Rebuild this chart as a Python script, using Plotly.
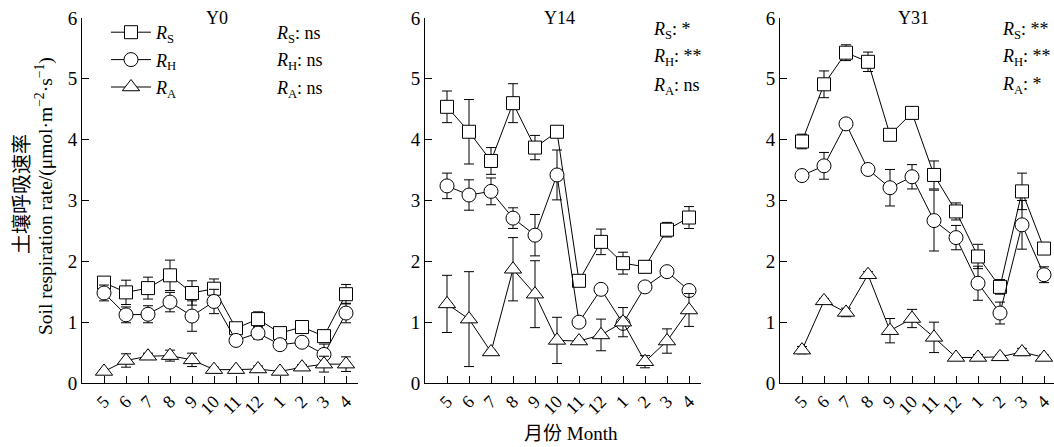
import plotly.graph_objects as go

months = ["5", "6", "7", "8", "9", "10", "11", "12", "1", "2", "3", "4"]
panels = ["Y0", "Y14", "Y31"]

# Y0
y0_rs = [1.65, 1.49, 1.56, 1.77, 1.48, 1.55, 0.90, 1.05, 0.82, 0.92, 0.77, 1.46]
y0_rs_err = [0.08, 0.20, 0.18, 0.25, 0.20, 0.16, 0.05, 0.12, 0.05, 0.03, 0.10, 0.16]
y0_rh = [1.48, 1.12, 1.13, 1.33, 1.10, 1.34, 0.70, 0.82, 0.63, 0.67, 0.47, 1.15]
y0_rh_err = [0.13, 0.13, 0.14, 0.16, 0.25, 0.20, 0.03, 0.10, 0.05, 0.02, 0.17, 0.16]
y0_ra = [0.19, 0.37, 0.44, 0.45, 0.38, 0.22, 0.22, 0.23, 0.19, 0.26, 0.31, 0.31]
y0_ra_err = [0.03, 0.11, 0.05, 0.09, 0.11, 0.04, 0.03, 0.05, 0.02, 0.04, 0.13, 0.12]

# Y14
y14_rs = [4.54, 4.13, 3.65, 4.60, 3.87, 4.13, 1.68, 2.32, 1.97, 1.91, 2.52, 2.72]
y14_rs_err = [0.26, 0.53, 0.22, 0.32, 0.20, 0.03, 0.03, 0.21, 0.18, 0.10, 0.12, 0.18]
y14_rh = [3.24, 3.09, 3.15, 2.71, 2.43, 3.42, 1.00, 1.54, 0.98, 1.58, 1.83, 1.52]
y14_rh_err = [0.21, 0.25, 0.22, 0.17, 0.34, 0.41, 0.03, 0.02, 0.03, 0.02, 0.03, 0.03]
y14_ra = [1.30, 1.05, 0.51, 1.87, 1.46, 0.70, 0.69, 0.79, 1.00, 0.35, 0.69, 1.20]
y14_ra_err = [0.47, 0.78, 0.03, 0.52, 0.55, 0.38, 0.03, 0.26, 0.24, 0.10, 0.20, 0.27]

# Y31
y31_rs = [3.97, 4.91, 5.43, 5.28, 4.08, 4.44, 3.42, 2.82, 2.08, 1.58, 3.15, 2.21]
y31_rs_err = [0.12, 0.22, 0.13, 0.16, 0.03, 0.03, 0.23, 0.14, 0.20, 0.12, 0.30, 0.05]
y31_rh = [3.41, 3.57, 4.26, 3.51, 3.21, 3.39, 2.67, 2.39, 1.64, 1.15, 2.60, 1.78]
y31_rh_err = [0.08, 0.22, 0.02, 0.06, 0.30, 0.20, 0.50, 0.20, 0.28, 0.18, 0.40, 0.13]
y31_ra = [0.54, 1.35, 1.16, 1.78, 0.86, 1.06, 0.75, 0.42, 0.42, 0.43, 0.51, 0.42]
y31_ra_err = [0.06, 0.04, 0.07, 0.05, 0.20, 0.15, 0.25, 0.03, 0.05, 0.03, 0.06, 0.04]

sig_labels = [
    ["ns", "ns", "ns"],
    ["*", "**", "ns"],
    ["**", "**", "*"],
]
series_names = ["<i>R</i><sub>S</sub>", "<i>R</i><sub>H</sub>", "<i>R</i><sub>A</sub>"]
symbols = ["square", "circle", "triangle-up"]
sizes = [13, 14, 15]

data = [
    [(y0_rs, y0_rs_err), (y0_rh, y0_rh_err), (y0_ra, y0_ra_err)],
    [(y14_rs, y14_rs_err), (y14_rh, y14_rh_err), (y14_ra, y14_ra_err)],
    [(y31_rs, y31_rs_err), (y31_rh, y31_rh_err), (y31_ra, y31_ra_err)],
]

W, H = 1054, 447
FONT = "Liberation Serif"

# panel geometry in pixels
x_left = [82, 425, 780]
x_right = [358, 701, 1054]
y_top_px, y_bot_px = 18, 383
unit = 22.0

fig = go.Figure()

for p in range(3):
    xa = "x" if p == 0 else f"x{p+1}"
    ya = "y" if p == 0 else f"y{p+1}"
    for s in range(3):
        vals, errs = data[p][s]
        fig.add_trace(go.Scatter(
            x=months, y=vals, xaxis=xa, yaxis=ya,
            mode="lines+markers",
            name=series_names[s],
            legendgroup=f"g{s}",
            showlegend=(p == 0),
            line=dict(color="black", width=1),
            marker=dict(symbol=symbols[s], size=sizes[s], color="white",
                        line=dict(color="black", width=1)),
            error_y=dict(type="data", array=errs, visible=True,
                         color="black", thickness=1, width=5),
        ))

layout = dict(
    width=W, height=H, autosize=False,
    margin=dict(l=0, r=0, t=0, b=0, pad=0, autoexpand=False),
    plot_bgcolor="white", paper_bgcolor="white",
    font=dict(family=FONT, size=17, color="black"),
    legend=dict(x=106 / W, y=1 - 14 / H, xanchor="left", yanchor="top",
                bgcolor="rgba(0,0,0,0)", font=dict(family=FONT, size=18),
                tracegroupgap=1, itemwidth=40),
)

annotations = []
for p in range(3):
    xk = "xaxis" if p == 0 else f"xaxis{p+1}"
    yk = "yaxis" if p == 0 else f"yaxis{p+1}"
    dom_x = [x_left[p] / W, min(x_right[p] / W, 1.0)]
    rng_end = (min(x_right[p], W) - x_left[p]) / unit - 1
    layout[xk] = dict(
        domain=dom_x, type="category", categoryorder="array", categoryarray=months,
        range=[-1, rng_end], showline=True, linecolor="black", linewidth=1,
        ticks="inside", ticklen=7, tickcolor="black", tickangle=-45,
        tickfont=dict(family=FONT, size=18), showgrid=False, zeroline=False,
        automargin=False,
        anchor="y" if p == 0 else f"y{p+1}",
    )
    layout[yk] = dict(
        domain=[(H - y_bot_px) / H, (H - y_top_px) / H],
        range=[0, 6], tickvals=[0, 1, 2, 3, 4, 5, 6],
        showline=True, linecolor="black", linewidth=1,
        ticks="inside", ticklen=7, tickcolor="black",
        tickfont=dict(family=FONT, size=19), showgrid=False, zeroline=False,
        automargin=False,
        anchor="x" if p == 0 else f"x{p+1}",
    )
    cx = (x_left[p] + min(x_right[p], W)) / 2
    annotations.append(dict(
        text=panels[p], x=cx / W - 0.003, y=1 - 18 / H, xref="paper", yref="paper",
        showarrow=False, font=dict(family=FONT, size=18), xanchor="center", yanchor="middle"))

# significance labels
sig_x = [274, 651, 1000]
sig_y = [[34, 62, 89], [30, 58, 86], [30, 57, 85]]
short = ["S", "H", "A"]
for p in range(3):
    for s in range(3):
        annotations.append(dict(
            text=f"<i>R</i><sub>{short[s]}</sub>: {sig_labels[p][s]}",
            x=sig_x[p] / W, y=1 - sig_y[p][s] / H, xref="paper", yref="paper",
            showarrow=False, xanchor="left", yanchor="middle",
            font=dict(family=FONT, size=18)))

# y-axis titles
annotations.append(dict(
    text="土壤呼吸速率", x=20 / W, y=1 - 194 / H, xref="paper", yref="paper",
    showarrow=False, textangle=-90, xanchor="center", yanchor="middle",
    font=dict(family="Noto Sans CJK SC", size=20)))
annotations.append(dict(
    text="Soil respiration rate/(μmol·m<sup>−2</sup>·s<sup>−1</sup>)",
    x=45 / W, y=1 - 196 / H, xref="paper", yref="paper",
    showarrow=False, textangle=-90, xanchor="center", yanchor="middle",
    font=dict(family=FONT, size=19.5)))
# x-axis title
annotations.append(dict(
    text="月份 Month", x=571 / W, y=1 - 433 / H, xref="paper", yref="paper",
    showarrow=False, xanchor="center", yanchor="middle",
    font=dict(family="Liberation Serif, Noto Sans CJK SC", size=19)))

layout["annotations"] = annotations
fig.update_layout(**layout)
fig.write_html("out.html")
